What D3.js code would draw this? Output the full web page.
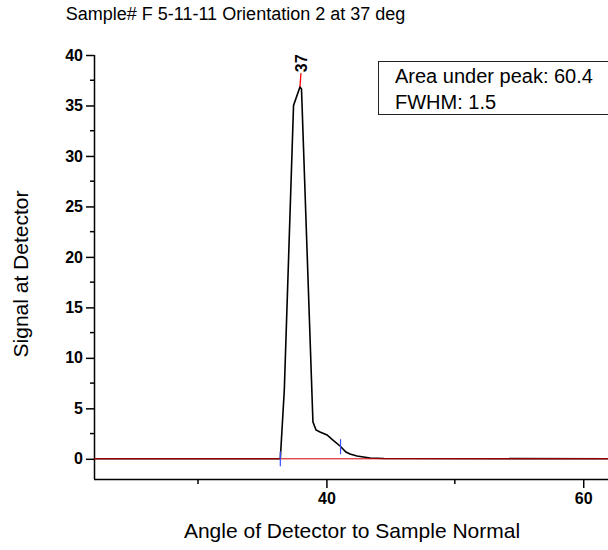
<!DOCTYPE html>
<html>
<head>
<meta charset="utf-8">
<script src="https://cdn.jsdelivr.net/npm/d3@7/dist/d3.min.js"></script>
<style>
  html, body { margin: 0; padding: 0; background: #fff; }
  svg { display: block; }
  text { font-family: "Liberation Sans", Arial, sans-serif; fill: #000; }
</style>
</head>
<body>
<script>
// ---- data ----
const angles  = [21.9, 36.41, 36.72, 37.44, 37.94, 38.06, 38.95, 39.19, 39.50, 40.05, 40.51, 41.06, 41.52, 41.84, 42.38, 43.40, 44.48, 62.0];
const signals = [0,    0,     6.8,   35.0,  36.84, 36.63, 3.67,  2.85,  2.65,  2.36,  1.86,  1.27,  0.67,  0.48,  0.28,  0.08,  0.03,  0];
const peakAngle = 37.94, peakValue = 36.84, peakLabelTop = 38.2, peakLabel = "37";
const anchorAngles = [36.41, 41.1];
const anchorValues = [0, 1.2];
const yTicks = [0, 5, 10, 15, 20, 25, 30, 35, 40];
const yMinorTicks = [2.5, 7.5, 12.5, 17.5, 22.5, 27.5, 32.5, 37.5];
const xTicks = [40, 60];
const xMinorTicks = [30, 50];
const infoLines = ["Area under peak: 60.4", "FWHM: 1.5"];
const title = "Sample# F 5-11-11 Orientation 2 at 37 deg";
const xTitle = "Angle of Detector to Sample Normal";
const yTitle = "Signal at Detector";

const W = 608, H = 550;
const svg = d3.select("body").append("svg").attr("width", W).attr("height", H);

const x = d3.scaleLinear().domain([21.9, 62]).range([94, 608.9]);
const y = d3.scaleLinear().domain([-2, 40]).range([479, 55]);

// title
svg.append("text").attr("x", 235.5).attr("y", 20).attr("text-anchor", "middle")
  .style("font-size", "18px").text(title);

// axes
const yAxis = d3.axisLeft(y).tickValues(yTicks).tickSize(8).tickPadding(3).tickFormat(d3.format("d"));
const gy = svg.append("g").attr("transform", "translate(94,0)").call(yAxis);
gy.select(".domain").attr("d", `M0.5,${y(40)}V${y(-2)}`).attr("stroke", "#000").attr("stroke-width", 1.5);
gy.selectAll(".tick line").attr("stroke", "#000").attr("stroke-width", 1.5);
gy.selectAll(".tick text").style("font-size", "16px").style("font-weight", "bold")
  .style("font-family", "'Liberation Sans', Arial, sans-serif");
gy.selectAll(".minor").data(yMinorTicks).enter().append("line")
  .attr("x1", -4).attr("x2", 0).attr("y1", d => y(d)).attr("y2", d => y(d))
  .attr("stroke", "#000").attr("stroke-width", 1.5);

const xAxis = d3.axisBottom(x).tickValues(xTicks).tickSize(9).tickPadding(5).tickFormat(d3.format("d"));
const gx = svg.append("g").attr("transform", `translate(0,${y(-2)})`).call(xAxis);
gx.select(".domain").attr("d", `M94,0.5H608`).attr("stroke", "#000").attr("stroke-width", 1.5);
gx.selectAll(".tick line").attr("stroke", "#000").attr("stroke-width", 1.5);
gx.selectAll(".tick text").style("font-size", "16px").style("font-weight", "bold")
  .style("font-family", "'Liberation Sans', Arial, sans-serif");
gx.selectAll(".minor").data(xMinorTicks).enter().append("line")
  .attr("x1", d => x(d)).attr("x2", d => x(d)).attr("y1", 0).attr("y2", 5)
  .attr("stroke", "#000").attr("stroke-width", 1.5);

// axis titles
svg.append("text").attr("x", 352).attr("y", 538).attr("text-anchor", "middle")
  .style("font-size", "21px").text(xTitle);
svg.append("text").attr("transform", `translate(28,274) rotate(-90)`).attr("text-anchor", "middle")
  .style("font-size", "21px").text(yTitle);

// data curve
const line = d3.line().x((d, i) => x(angles[i])).y(d => y(d));
svg.append("path").datum(signals).attr("d", line)
  .attr("fill", "none").attr("stroke", "#000").attr("stroke-width", 1.6);

// baseline
svg.append("line").attr("x1", x(21.9)).attr("x2", 608).attr("y1", y(0)).attr("y2", y(0))
  .attr("stroke", "#d00000").attr("stroke-width", 1);

// anchor markers (blue)
svg.selectAll(".anchor").data(anchorAngles).enter().append("line")
  .attr("x1", d => x(d)).attr("x2", d => x(d))
  .attr("y1", (d, i) => y(anchorValues[i]) - 7.5).attr("y2", (d, i) => y(anchorValues[i]) + 7.5)
  .attr("stroke", "#3a4cff").attr("stroke-width", 1.2);

// peak leader + label
svg.append("line").attr("x1", x(peakAngle)).attr("y1", y(peakValue))
  .attr("x2", x(peakAngle) + 1).attr("y2", y(peakLabelTop))
  .attr("stroke", "#ff0000").attr("stroke-width", 1.3);
svg.append("text").attr("transform", `translate(${x(peakAngle) + 7},${y(peakLabelTop) - 1}) rotate(-90)`)
  .style("font-size", "16px").style("font-weight", "bold").text(peakLabel);

// info box
svg.append("rect").attr("x", 378.5).attr("y", 61.5).attr("width", 240).attr("height", 53)
  .attr("fill", "#fff").attr("stroke", "#222").attr("stroke-width", 1);
svg.selectAll(".info").data(infoLines).enter().append("text")
  .attr("x", 395).attr("y", (d, i) => 83 + i * 25.5)
  .style("font-size", "20px").text(d => d);
</script>
</body>
</html>
